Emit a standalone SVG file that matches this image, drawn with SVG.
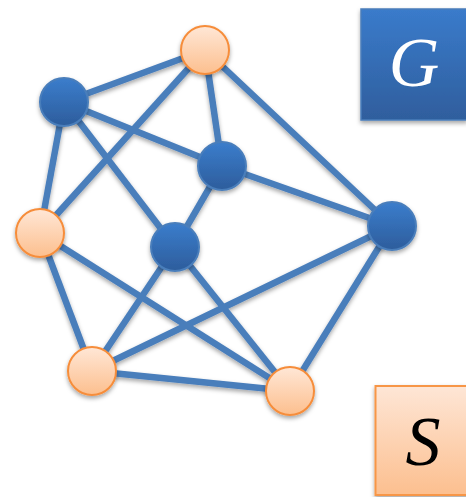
<svg xmlns="http://www.w3.org/2000/svg" width="466" height="497" viewBox="0 0 466 497">
<defs>
<linearGradient id="gb" x1="0" y1="0" x2="0" y2="1">
<stop offset="0" stop-color="#3b7dcc"/>
<stop offset="1" stop-color="#2d5d9c"/>
</linearGradient>
<linearGradient id="go" x1="0" y1="0" x2="0" y2="1">
<stop offset="0" stop-color="#ffe7d6"/>
<stop offset="1" stop-color="#fcbf8e"/>
</linearGradient>
<linearGradient id="gbox" x1="0" y1="0" x2="0" y2="1">
<stop offset="0" stop-color="#3a7bcb"/>
<stop offset="1" stop-color="#2f5e9d"/>
</linearGradient>
<linearGradient id="obox" x1="0" y1="0" x2="0" y2="1">
<stop offset="0" stop-color="#fee6d6"/>
<stop offset="1" stop-color="#fcbf8f"/>
</linearGradient>
<filter id="sh" x="-30%" y="-30%" width="160%" height="170%">
<feDropShadow dx="0" dy="2.5" stdDeviation="2" flood-color="#000" flood-opacity="0.35"/>
</filter>
</defs>
<style>
.e line{stroke:#4a7ebb;stroke-width:6.5;stroke-linecap:butt}
.b{fill:url(#gb);stroke:#4a7ebb;stroke-width:2}
.o{fill:url(#go);stroke:#f68d3a;stroke-width:2}
.t{font-family:"Liberation Serif",serif;font-style:italic;font-size:70px;text-anchor:middle}
</style>
<g id="boxG" filter="url(#sh)">
<rect x="361" y="9" width="106" height="111" fill="url(#gbox)" stroke="#4a7ebb" stroke-width="1.5"/>
<text class="t" x="414" y="86" fill="#ffffff">G</text>
</g>
<g id="boxS" filter="url(#sh)">
<rect x="375.5" y="386" width="95" height="109" fill="url(#obox)" stroke="#f79646" stroke-width="2"/>
<text class="t" x="423" y="465" fill="#000000">S</text>
</g>
<g id="edges" class="e" filter="url(#sh)">
<line x1="205" y1="50" x2="64" y2="102"/>
<line x1="205" y1="50" x2="40" y2="233"/>
<line x1="205" y1="50" x2="222" y2="166"/>
<line x1="205" y1="50" x2="392" y2="226"/>
<line x1="64" y1="102" x2="222" y2="166"/>
<line x1="64" y1="102" x2="175" y2="247"/>
<line x1="64" y1="102" x2="40" y2="233"/>
<line x1="222" y1="166" x2="175" y2="247"/>
<line x1="222" y1="166" x2="392" y2="226"/>
<line x1="40" y1="233" x2="290" y2="391"/>
<line x1="40" y1="233" x2="92" y2="371"/>
<line x1="175" y1="247" x2="92" y2="371"/>
<line x1="175" y1="247" x2="290" y2="391"/>
<line x1="92" y1="371" x2="392" y2="226"/>
<line x1="92" y1="371" x2="290" y2="391"/>
<line x1="290" y1="391" x2="392" y2="226"/>
</g>
<g id="n1" filter="url(#sh)"><circle class="o" cx="205" cy="50" r="24"/></g>
<g id="n2" filter="url(#sh)"><circle class="b" cx="64" cy="102" r="24"/></g>
<g id="n3" filter="url(#sh)"><circle class="b" cx="222" cy="166" r="24"/></g>
<g id="n4" filter="url(#sh)"><circle class="b" cx="392" cy="226" r="24"/></g>
<g id="n5" filter="url(#sh)"><circle class="o" cx="40" cy="233" r="24"/></g>
<g id="n6" filter="url(#sh)"><circle class="b" cx="175" cy="247" r="24"/></g>
<g id="n7" filter="url(#sh)"><circle class="o" cx="92" cy="371" r="24"/></g>
<g id="n8" filter="url(#sh)"><circle class="o" cx="290" cy="391" r="24"/></g>
</svg>
